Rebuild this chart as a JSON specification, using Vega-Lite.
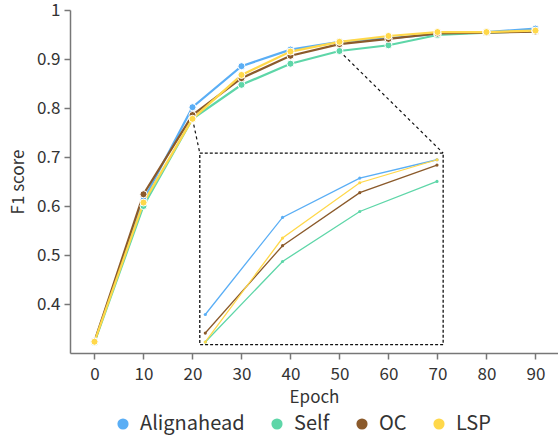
{
  "$schema": "https://vega.github.io/schema/vega-lite/v6.json",
  "width": 488,
  "height": 343,
  "autosize": {"type": "none"},
  "padding": {"left": 70, "top": 10, "right": 0, "bottom": 84},
  "config": {
    "view": {"stroke": null},
    "font": "Noto Sans CJK SC",
    "axis": {
      "labelFont": "Noto Sans CJK SC",
      "titleFont": "Noto Sans CJK SC",
      "labelFontSize": 17,
      "titleFontSize": 17,
      "titleFontWeight": "normal",
      "labelColor": "#333333",
      "titleColor": "#333333",
      "domainColor": "#777777",
      "domainWidth": 1.5,
      "tickColor": "#777777",
      "tickWidth": 1.5,
      "tickSize": 6,
      "grid": false
    },
    "legend": {
      "labelFont": "Noto Sans CJK SC",
      "labelFontSize": 20,
      "labelFontWeight": "normal",
      "labelColor": "#333333",
      "title": null,
      "orient": "none",
      "direction": "horizontal",
      "legendX": 43,
      "legendY": 404,
      "symbolType": "circle",
      "symbolSize": 125,
      "symbolStrokeWidth": 0,
      "labelOffset": 7,
      "columnPadding": 22
    }
  },
  "datasets": {
    "scores": [
      {"series": "Alignahead", "epoch": 0, "f1": 0.323},
      {"series": "Alignahead", "epoch": 10, "f1": 0.612},
      {"series": "Alignahead", "epoch": 20, "f1": 0.8016},
      {"series": "Alignahead", "epoch": 30, "f1": 0.8853},
      {"series": "Alignahead", "epoch": 40, "f1": 0.9192},
      {"series": "Alignahead", "epoch": 50, "f1": 0.935},
      {"series": "Alignahead", "epoch": 60, "f1": 0.942},
      {"series": "Alignahead", "epoch": 70, "f1": 0.951},
      {"series": "Alignahead", "epoch": 80, "f1": 0.955},
      {"series": "Alignahead", "epoch": 90, "f1": 0.962},
      {"series": "Self", "epoch": 0, "f1": 0.322},
      {"series": "Self", "epoch": 10, "f1": 0.6},
      {"series": "Self", "epoch": 20, "f1": 0.7779},
      {"series": "Self", "epoch": 30, "f1": 0.8473},
      {"series": "Self", "epoch": 40, "f1": 0.8904},
      {"series": "Self", "epoch": 50, "f1": 0.9163},
      {"series": "Self", "epoch": 60, "f1": 0.928},
      {"series": "Self", "epoch": 70, "f1": 0.949},
      {"series": "Self", "epoch": 80, "f1": 0.954},
      {"series": "Self", "epoch": 90, "f1": 0.957},
      {"series": "OC", "epoch": 0, "f1": 0.324},
      {"series": "OC", "epoch": 10, "f1": 0.624},
      {"series": "OC", "epoch": 20, "f1": 0.7856},
      {"series": "OC", "epoch": 30, "f1": 0.8609},
      {"series": "OC", "epoch": 40, "f1": 0.9066},
      {"series": "OC", "epoch": 50, "f1": 0.9304},
      {"series": "OC", "epoch": 60, "f1": 0.941},
      {"series": "OC", "epoch": 70, "f1": 0.952},
      {"series": "OC", "epoch": 80, "f1": 0.954},
      {"series": "OC", "epoch": 90, "f1": 0.956},
      {"series": "LSP", "epoch": 0, "f1": 0.323},
      {"series": "LSP", "epoch": 10, "f1": 0.607},
      {"series": "LSP", "epoch": 20, "f1": 0.7779},
      {"series": "LSP", "epoch": 30, "f1": 0.8675},
      {"series": "LSP", "epoch": 40, "f1": 0.9152},
      {"series": "LSP", "epoch": 50, "f1": 0.935},
      {"series": "LSP", "epoch": 60, "f1": 0.947},
      {"series": "LSP", "epoch": 70, "f1": 0.955},
      {"series": "LSP", "epoch": 80, "f1": 0.955},
      {"series": "LSP", "epoch": 90, "f1": 0.958}
    ],
    "box": [
      {"x0": 21.49, "x1": 71.16, "y0": 0.317, "y1": 0.708}
    ],
    "connectors": [
      {"xa": 20, "ya": 0.7779, "xb": 21.49, "yb": 0.708},
      {"xa": 50, "ya": 0.9163, "xb": 71.16, "yb": 0.708}
    ]
  },
  "resolve": {"scale": {"x": "independent", "y": "independent"}},
  "layer": [
    {
      "data": {"name": "scores"},
      "mark": {"type": "line", "strokeWidth": 2.2},
      "encoding": {
        "x": {"field": "epoch", "type": "quantitative", "scale": {"domain": [-5, 94.6], "nice": false, "zero": false},
          "axis": {"values": [0, 10, 20, 30, 40, 50, 60, 70, 80, 90], "title": "Epoch", "labelPadding": 7, "titlePadding": 7}},
        "y": {"field": "f1", "type": "quantitative", "scale": {"domain": [0.3, 1], "nice": false, "zero": false},
          "axis": {"values": [0.4, 0.5, 0.6, 0.7, 0.8, 0.9, 1], "format": ".1~f", "title": "F1 score", "labelPadding": 4, "titlePadding": 9}},
        "stroke": {"field": "series", "type": "nominal",
          "scale": {"domain": ["Alignahead", "Self", "OC", "LSP"], "range": ["#5AAEF5", "#5ED6A8", "#8B5A2B", "#FFD84A"]}}
      }
    },
    {
      "data": {"name": "connectors"},
      "mark": {"type": "rule", "stroke": "#111111", "strokeWidth": 1.2, "strokeDash": [3, 3]},
      "encoding": {
        "x": {"field": "xa", "type": "quantitative", "scale": {"domain": [-5, 94.6], "nice": false, "zero": false}, "axis": null},
        "y": {"field": "ya", "type": "quantitative", "scale": {"domain": [0.3, 1], "nice": false, "zero": false}, "axis": null},
        "x2": {"field": "xb"},
        "y2": {"field": "yb"}
      }
    },
    {
      "data": {"name": "box"},
      "mark": {"type": "rect", "fillOpacity": 0, "stroke": "#111111", "strokeWidth": 1.3, "strokeDash": [3, 2]},
      "encoding": {
        "x": {"field": "x0", "type": "quantitative", "scale": {"domain": [-5, 94.6], "nice": false, "zero": false}, "axis": null},
        "x2": {"field": "x1"},
        "y": {"field": "y0", "type": "quantitative", "scale": {"domain": [0.3, 1], "nice": false, "zero": false}, "axis": null},
        "y2": {"field": "y1"}
      }
    },
    {
      "data": {"name": "scores"},
      "mark": {"type": "point", "filled": true, "size": 50, "stroke": "white", "strokeWidth": 1, "opacity": 1},
      "encoding": {
        "x": {"field": "epoch", "type": "quantitative", "scale": {"domain": [-5, 94.6], "nice": false, "zero": false}, "axis": null},
        "y": {"field": "f1", "type": "quantitative", "scale": {"domain": [0.3, 1], "nice": false, "zero": false}, "axis": null},
        "color": {"field": "series", "type": "nominal",
          "scale": {"domain": ["Alignahead", "Self", "OC", "LSP"], "range": ["#5AAEF5", "#5ED6A8", "#8B5A2B", "#FFD84A"]}}
      }
    },
    {
      "data": {"name": "scores"},
      "transform": [{"filter": "datum.epoch >= 20 && datum.epoch <= 50"}],
      "mark": {"type": "line", "strokeWidth": 1.3, "clip": false},
      "encoding": {
        "x": {"field": "epoch", "type": "quantitative", "scale": {"domain": [2.48, 65.67], "nice": false, "zero": false}, "axis": null},
        "y": {"field": "f1", "type": "quantitative", "scale": {"domain": [0.7684, 1.0641], "nice": false, "zero": false}, "axis": null},
        "stroke": {"field": "series", "type": "nominal"}
      }
    },
    {
      "data": {"name": "scores"},
      "transform": [{"filter": "datum.epoch >= 20 && datum.epoch <= 50"}],
      "mark": {"type": "point", "filled": true, "size": 10, "opacity": 1},
      "encoding": {
        "x": {"field": "epoch", "type": "quantitative", "scale": {"domain": [2.48, 65.67], "nice": false, "zero": false}, "axis": null},
        "y": {"field": "f1", "type": "quantitative", "scale": {"domain": [0.7684, 1.0641], "nice": false, "zero": false}, "axis": null},
        "color": {"field": "series", "type": "nominal"}
      }
    }
  ]
}
